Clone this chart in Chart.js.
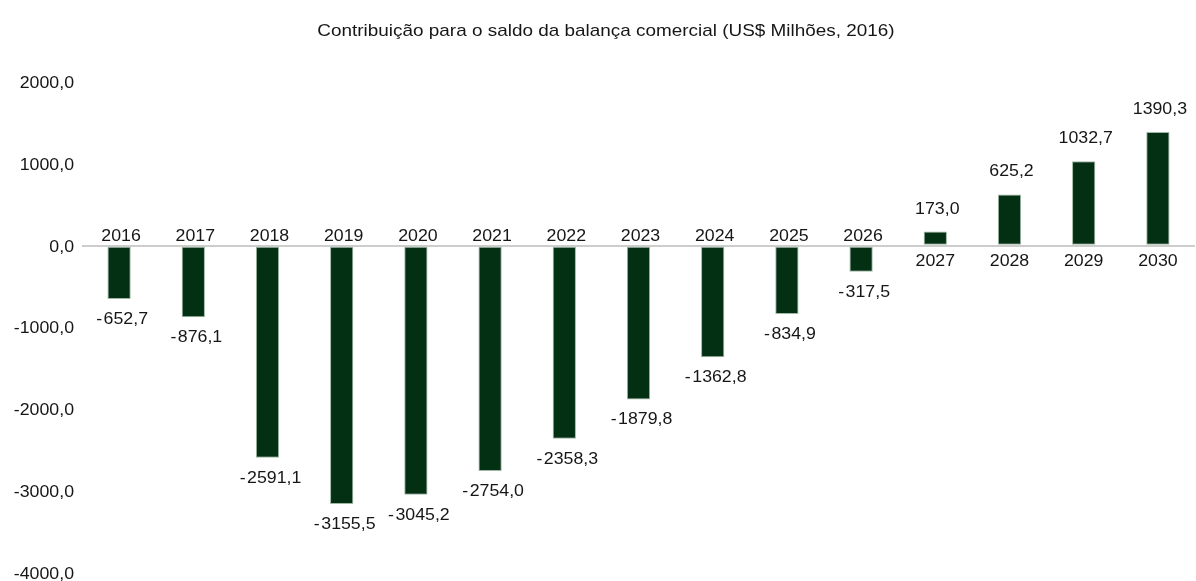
<!DOCTYPE html>
<html>
<head>
<meta charset="utf-8">
<script src="https://cdn.jsdelivr.net/npm/chart.js@4/dist/chart.umd.min.js"></script>
<style>
  html, body { margin: 0; padding: 0; background: #ffffff; }
  #wrap { width: 1196px; height: 581px; }
</style>
</head>
<body>
<div id="wrap"><canvas id="c" width="1196" height="581"></canvas></div>
<script>
// Contribuição anual para o saldo da balança comercial, US$ milhões de 2016
const anos = ['2016', '2017', '2018', '2019', '2020', '2021', '2022', '2023',
              '2024', '2025', '2026', '2027', '2028', '2029', '2030'];
const saldo = [-652.7, -876.1, -2591.1, -3155.5, -3045.2, -2754.0, -2358.3, -1879.8,
               -1362.8, -834.9, -317.5, 173.0, 625.2, 1032.7, 1390.3];
const eixoY = [2000, 1000, 0, -1000, -2000, -3000, -4000];
const titulo = 'Contribuição para o saldo da balança comercial (US$ Milhões, 2016)';

const FONTE = '"Liberation Sans", Arial, Helvetica, sans-serif';
const COR_TEXTO = '#161616';

// número com uma casa decimal e vírgula como separador
function fmt(v) {
  return v.toFixed(1).replace('.', ',');
}
// rótulo de valor: sinal negativo levemente afastado dos algarismos
function fmtValor(v) {
  return v < 0 ? '-\u200A' + fmt(-v) : fmt(v);
}

// texto com leve alargamento horizontal
function texto(ctx, s, x, y, size, align, esticar) {
  ctx.save();
  ctx.font = size + 'px ' + FONTE;
  ctx.textAlign = align;
  ctx.textBaseline = 'middle';
  ctx.translate(x, y + 1.5);
  ctx.scale(esticar, 1);
  ctx.fillText(s, 0, 0);
  ctx.restore();
}

// título, marcas do eixo Y, anos junto ao eixo zero e valores nas pontas das barras
const rotulos = {
  id: 'rotulos',
  afterDatasetsDraw(chart) {
    const ctx = chart.ctx;
    const y = chart.scales.y;
    const area = chart.chartArea;
    const zero = y.getPixelForValue(0);
    const meta = chart.getDatasetMeta(0);
    ctx.save();
    ctx.fillStyle = COR_TEXTO;

    texto(ctx, titulo, 606, 30, 16.6, 'center', 1.14);

    eixoY.forEach(v => {
      texto(ctx, fmt(v), area.left - 8, y.getPixelForValue(v), 16.3, 'right', 1.09);
    });

    meta.data.forEach((bar, i) => {
      const v = saldo[i];
      const x = bar.x;
      const fim = y.getPixelForValue(v);
      if (v < 0) {
        texto(ctx, anos[i], x + 2, zero - 11, 16.3, 'center', 1.09);
        texto(ctx, fmtValor(v), x + 3, fim + 19, 16.3, 'center', 1.09);
      } else {
        texto(ctx, anos[i], x, zero + 14, 16.3, 'center', 1.09);
        texto(ctx, fmtValor(v), x + 2, fim - 24, 16.3, 'center', 1.09);
      }
    });
    ctx.restore();
  }
};

new Chart(document.getElementById('c'), {
  type: 'bar',
  data: {
    labels: anos,
    datasets: [{
      data: saldo,
      backgroundColor: '#032f13',
      borderColor: '#9fb7a4',
      borderWidth: 1,
      borderSkipped: false,
      barPercentage: 0.314,
      categoryPercentage: 1
    }]
  },
  options: {
    responsive: false,
    devicePixelRatio: 1,
    animation: false,
    layout: { padding: { top: 82, bottom: 8, left: 82, right: 1 } },
    plugins: {
      legend: { display: false },
      title: { display: false },
      tooltip: { enabled: false }
    },
    scales: {
      x: { display: false },
      y: {
        min: Math.min(...eixoY),
        max: Math.max(...eixoY),
        afterBuildTicks(scale) {
          scale.ticks = eixoY.map(v => ({ value: v }));
        },
        ticks: { display: false },
        border: { display: false },
        grid: {
          drawTicks: false,
          lineWidth: 2,
          color: c => (c.tick && c.tick.value === 0 ? '#cdcdcd' : 'rgba(0,0,0,0)')
        }
      }
    }
  },
  plugins: [rotulos]
});
</script>
</body>
</html>
